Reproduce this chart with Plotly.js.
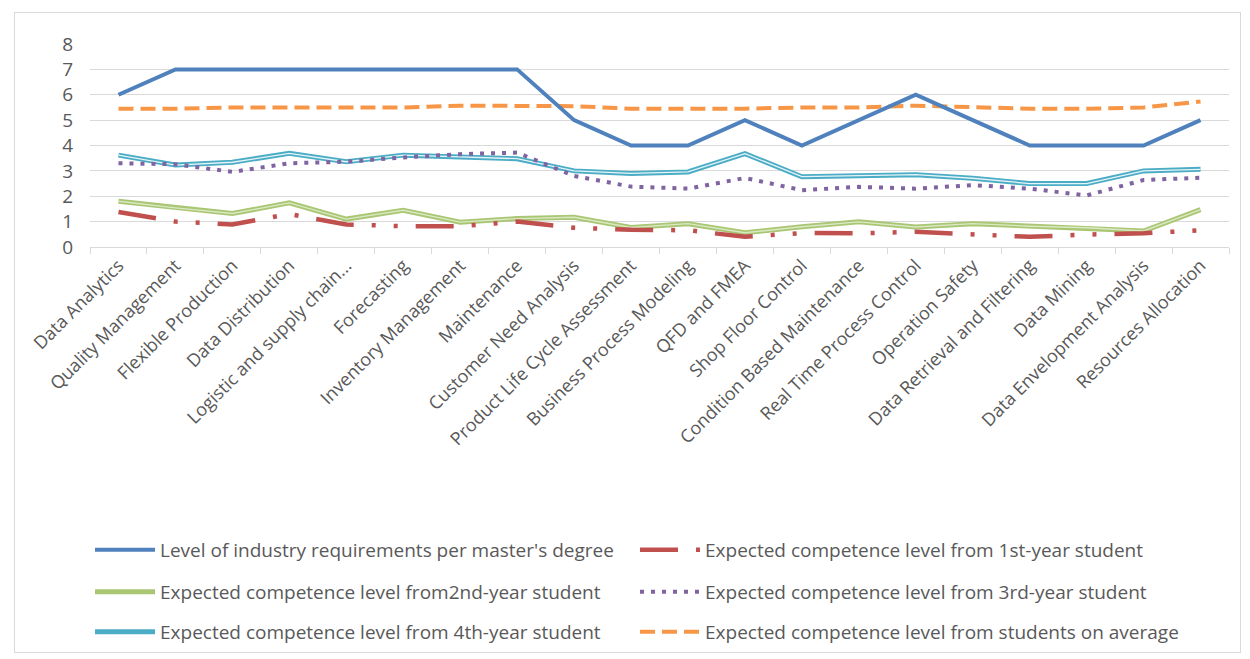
<!DOCTYPE html>
<html>
<head>
<meta charset="utf-8">
<script src="https://cdn.plot.ly/plotly-3.0.1.min.js"></script>
<style>
html,body{margin:0;padding:0;background:#fff;}
#frame{position:absolute;left:14px;top:12px;width:1225px;height:639px;border:1px solid #d9d9d9;}
#chart{position:absolute;left:0;top:0;width:1250px;height:659px;}
</style>
</head>
<body>
<div id="frame"></div>
<div id="chart"></div>
<script>
const categories = ["Data Analytics","Quality Management","Flexible Production","Data Distribution","Logistic and supply chain...","Forecasting","Inventory Management","Maintenance","Customer Need Analysis","Product Life Cycle Assessment","Business Process Modeling","QFD and FMEA","Shop Floor Control","Condition Based Maintenance","Real Time Process Control","Operation Safety","Data Retrieval and Filtering","Data Mining","Data Envelopment Analysis","Resources Allocation"];
const industry = [6,7,7,7,7,7,7,7,5,4,4,5,4,5,6,5,4,4,4,5];
const year1 = [1.38,1.0,0.89,1.3,0.89,0.82,0.82,1.0,0.76,0.68,0.66,0.4,0.55,0.54,0.6,0.48,0.4,0.49,0.54,0.66];
const year2 = [1.8,1.54,1.32,1.74,1.1,1.45,0.98,1.12,1.17,0.77,0.92,0.56,0.8,0.99,0.79,0.92,0.82,0.76,0.63,1.47];
const year3 = [3.3,3.26,2.96,3.3,3.36,3.53,3.66,3.72,2.8,2.38,2.3,2.72,2.24,2.37,2.3,2.44,2.3,2.03,2.64,2.73];
const year4 = [3.62,3.23,3.34,3.69,3.36,3.62,3.55,3.48,3.0,2.9,2.96,3.68,2.77,2.8,2.85,2.71,2.5,2.5,3.0,3.06];
const average = [5.45,5.45,5.5,5.5,5.5,5.5,5.57,5.57,5.55,5.45,5.45,5.45,5.5,5.5,5.57,5.5,5.45,5.45,5.5,5.73];
const names = ["Level of industry requirements per master's degree","Expected competence level from 1st-year student","Expected competence level from2nd-year student","Expected competence level from 3rd-year student","Expected competence level from 4th-year student","Expected competence level from students on average"];

const traces = [
  {x:categories,y:year2,mode:'lines',name:names[2],legend:'legend2',legendrank:1,line:{color:'#a9c672',width:5}},
  {x:categories,y:year2,mode:'lines',showlegend:false,hoverinfo:'skip',line:{color:'#dbe8c4',width:1.4}},
  {x:categories,y:year1,mode:'lines',name:names[1],legend:'legend',legendrank:2,line:{color:'#c0504d',width:4.5,dash:'38px,18px,4px,18px,4px,18px'}},
  {x:categories,y:year4,mode:'lines',name:names[4],legend:'legend3',legendrank:1,line:{color:'#4bacc6',width:5}},
  {x:categories,y:year4,mode:'lines',showlegend:false,hoverinfo:'skip',line:{color:'#e6f4f8',width:1.3}},
  {x:categories,y:year3,mode:'lines',name:names[3],legend:'legend2',legendrank:2,line:{color:'#8064a2',width:4,dash:'4px,7px'}},
  {x:categories,y:average,mode:'lines',name:names[5],legend:'legend3',legendrank:2,line:{color:'#f79646',width:4,dash:'15px,7px'}},
  {x:categories,y:industry,mode:'lines',name:names[0],legend:'legend',legendrank:1,line:{color:'#4f81bd',width:4}}
];

const legBase = {orientation:'h',xref:'container',yref:'container',x:0.072,xanchor:'left',yanchor:'middle',
  entrywidth:470,entrywidthmode:'pixels',itemwidth:60,traceorder:'normal',
  font:{family:'Open Sans, sans-serif',size:19,color:'#595959'},bgcolor:'rgba(0,0,0,0)'};

const layout = {
  width:1250,height:659,
  margin:{l:90,r:21,t:44,b:412},
  paper_bgcolor:'rgba(0,0,0,0)',plot_bgcolor:'rgba(0,0,0,0)',
  showlegend:true,
  xaxis:{type:'category',range:[-0.5,19.5],tickangle:-45,tickson:'boundaries',ticks:'outside',ticklen:6,tickcolor:'#d9d9d9',
    showline:true,linecolor:'#d9d9d9',linewidth:1,showgrid:false,
    tickfont:{family:'Open Sans, sans-serif',size:18,color:'#595959'}},
  yaxis:{range:[0,8],dtick:1,showgrid:true,gridcolor:'#d9d9d9',gridwidth:1,zeroline:false,showline:false,ticks:'',
    ticklabelstandoff:16,
    tickfont:{family:'Open Sans, sans-serif',size:19,color:'#595959'}},
  legend:Object.assign({},legBase,{y:1-550/659}),
  legend2:Object.assign({},legBase,{y:1-592/659}),
  legend3:Object.assign({},legBase,{y:1-632/659})
};

Plotly.newPlot('chart',traces,layout,{displayModeBar:false,staticPlot:true});
</script>
</body>
</html>
